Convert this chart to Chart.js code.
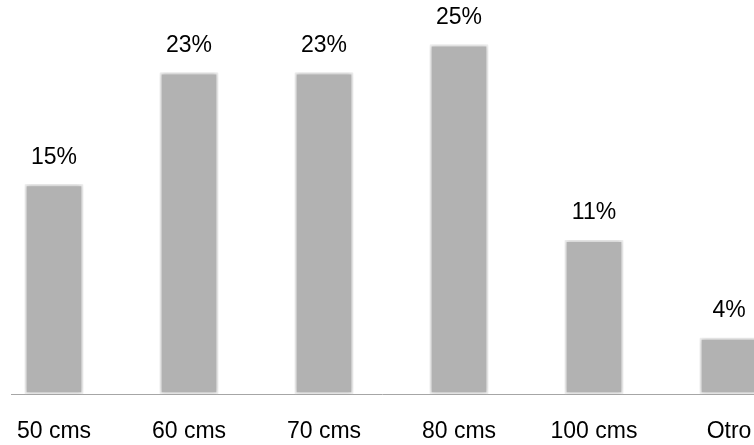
<!DOCTYPE html>
<html>
<head>
<meta charset="utf-8">
<script src="https://cdn.jsdelivr.net/npm/chart.js@4/dist/chart.umd.min.js"></script>
<style>
  html, body { margin: 0; padding: 0; background: #ffffff; }
  #wrap { width: 754px; height: 445px; position: relative; }
</style>
</head>
<body>
<div id="wrap"><canvas id="c"></canvas></div>
<script>
// Bar categories and their percentage shares
const categories = ['50 cms', '60 cms', '70 cms', '80 cms', '100 cms', 'Otro'];
const shares = [15, 23, 23, 25, 11, 4];
const valueLabels = ['15%', '23%', '23%', '25%', '11%', '4%'];

const FONT = '"Liberation Sans", Arial, sans-serif';

// Draws the value text above every bar and the horizontal base line
const decorations = {
  id: 'decorations',
  beforeDatasetsDraw(chart) {
    const { ctx, scales } = chart;
    const y0 = Math.round(scales.y.getPixelForValue(0)) + 0.5;
    ctx.save();
    ctx.strokeStyle = '#a6a6a6';
    ctx.lineWidth = 1;
    ctx.beginPath();
    ctx.moveTo(11, y0);
    ctx.lineTo(chart.width, y0);
    ctx.stroke();
    ctx.restore();
  },
  beforeDatasetDraw(chart) {
    const ctx = chart.ctx;
    ctx.save();
    ctx.shadowColor = 'rgba(0,0,0,0.22)';
    ctx.shadowBlur = 4;
  },
  afterDatasetDraw(chart) {
    chart.ctx.restore();
  },
  afterDatasetsDraw(chart) {
    const { ctx } = chart;
    const meta = chart.getDatasetMeta(0);
    ctx.save();
    ctx.fillStyle = '#000000';
    ctx.font = '23px ' + FONT;
    ctx.textAlign = 'center';
    ctx.textBaseline = 'alphabetic';
    meta.data.forEach((bar, i) => {
      ctx.fillText(valueLabels[i], bar.x, bar.y - 21);
    });
    ctx.restore();
  }
};

new Chart(document.getElementById('c'), {
  type: 'bar',
  data: {
    labels: categories,
    datasets: [{
      data: shares,
      backgroundColor: '#b2b2b2',
      borderColor: '#efefef',
      borderWidth: 2,
      borderSkipped: false,
      barThickness: 58,
      clip: false
    }]
  },
  options: {
    responsive: true,
    maintainAspectRatio: false,
    animation: false,
    layout: { padding: { left: 54, right: 25, top: 3, bottom: 0 } },
    plugins: { legend: { display: false }, tooltip: { enabled: false } },
    scales: {
      x: {
        offset: false,
        grid: { display: false, drawTicks: false },
        border: { display: false },
        ticks: {
          color: '#000000',
          font: { family: FONT, size: 23 },
          padding: 24,
          maxRotation: 0,
          autoSkip: false
        },
        afterFit(scale) {
          scale.paddingLeft = 0;
          scale.paddingRight = 0;
          scale.height = 51;
        }
      },
      y: {
        display: false,
        min: 0,
        max: 28
      }
    }
  },
  plugins: [decorations]
});
</script>
</body>
</html>
